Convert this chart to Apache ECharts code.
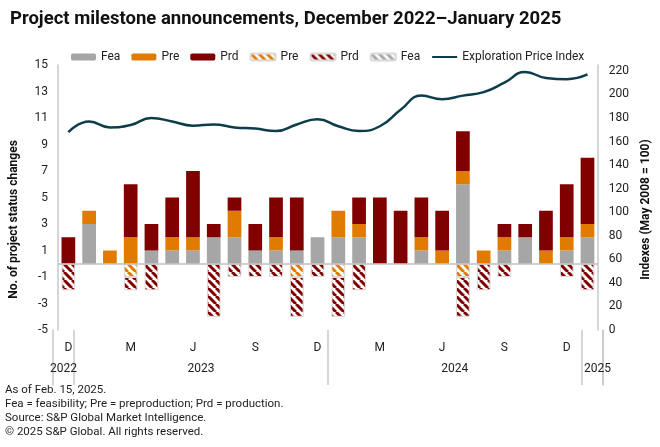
<!DOCTYPE html>
<html>
<head>
<meta charset="utf-8">
<script src="https://cdn.jsdelivr.net/npm/echarts@6/dist/echarts.min.js"></script>
<style>
html,body{margin:0;padding:0;background:#fff;}
#chart{width:660px;height:447px;}
</style>
</head>
<body>
<div id="chart"></div>
<script>
// ---- data ----
var categories = ['Dec 2022','Jan 2023','Feb 2023','Mar 2023','Apr 2023','May 2023','Jun 2023','Jul 2023','Aug 2023','Sep 2023','Oct 2023','Nov 2023','Dec 2023',
  'Jan 2024','Feb 2024','Mar 2024','Apr 2024','May 2024','Jun 2024','Jul 2024','Aug 2024','Sep 2024','Oct 2024','Nov 2024','Dec 2024','Jan 2025'];
var feaPos = [0,3,0,0,1,1,1,2,2,1,1,1,2, 2,2,0,0,1,0,6,0,1,2,0,1,2];
var prePos = [0,1,1,2,0,1,1,0,2,0,1,0,0, 2,1,0,0,1,1,1,1,1,0,1,1,1];
var prdPos = [2,0,0,4,2,3,5,1,1,2,3,4,0, 0,2,5,4,3,3,3,0,1,1,3,4,5];
var preNeg = [0,0,0,-1,0,0,0,0,0,0,0,-1,0, -1,0,0,0,0,0,-1,0,0,0,0,0,0];
var prdNeg = [-2,0,0,-1,-2,0,0,-4,-1,-1,-1,-3,-1, -3,-2,0,0,0,0,-3,-2,-1,0,0,-1,-2];
var feaNeg = [0,0,0,0,0,0,0,0,0,0,0,0,0, 0,0,0,0,0,0,0,0,0,0,0,0,0];
var priceIndex = [168,177,172,174,180,177,173.5,174.5,172,171,169,174.5,179, 173,169,173,187,199,196,199,202,210,219,214,213,217];
var monthLabels = ['D','','','M','','','J','','','S','','','D','','','M','','','J','','','S','','','D',''];
var yearLabels = ['2022','','','','','','2023','','','','','','','','','','','','2024','','','','','','','2025'];
var leftTicks = {min:-5, max:15, interval:2};
var rightTicks = {min:0, max:225, interval:20};

var FONT = 'Roboto';
var C_FEA = '#a6a6a6', C_PRE = '#e07b00', C_PRD = '#800000', C_LINE = '#0d3c4a', C_AXIS = '#c8c8c8';

function nz(arr){ return arr.map(function(v){ return v === 0 ? null : v; }); }
function hatch(color){
  var s = 8, c = document.createElement('canvas');
  c.width = s; c.height = s;
  var g = c.getContext('2d');
  g.fillStyle = '#ffffff'; g.fillRect(0,0,s,s);
  g.strokeStyle = color; g.lineWidth = 3;
  g.beginPath();
  for (var k=-1;k<=1;k++){ g.moveTo(k*s,0); g.lineTo(k*s+s,s); }
  g.stroke();
  return {image: c, repeat: 'repeat'};
}

var chart = echarts.init(document.getElementById('chart'), null, {renderer:'canvas'});
var barW = '66%';
function solid(name, data, color, extra){
  var s = {name:name, type:'bar', stack:'total', barWidth:barW, data:nz(data), itemStyle:{color:color}, xAxisIndex:0, yAxisIndex:0};
  if (extra) for (var k in extra) s[k] = extra[k];
  return s;
}
function hatched(name, data, color){
  return {name:name, type:'bar', stack:'total', barWidth:barW, data:nz(data), xAxisIndex:0, yAxisIndex:0,
    itemStyle:{color:hatch(color), borderColor:'#d9d9d9', borderWidth:1}};
}

var option = {
  animation:false,
  title:{text:'Project milestone announcements, December 2022\u2013January 2025', left:5, top:5,
    textStyle:{fontFamily:FONT, fontSize:18.5, fontWeight:'bold', color:'#111'}},
  legend:{left:66, top:46, itemWidth:25, itemHeight:7, itemGap:11,
    textStyle:{fontFamily:FONT, fontSize:12, color:'#222'},
    formatter:function(n){ return n.replace(' (h)',''); },
    data:['Fea','Pre','Prd','Pre (h)','Prd (h)','Fea (h)',{name:'Exploration Price Index', itemStyle:{opacity:0}}]},
  grid:[
    {left:53, right:57, top:65, height:265, containLabel:false},
    {left:53, right:57, top:330, height:55, containLabel:false}
  ],
  xAxis:[
    {type:'category', gridIndex:0, data:categories, boundaryGap:true, position:'bottom',
      axisLine:{show:false, onZero:false}, axisTick:{show:false}, splitLine:{show:false},
      axisLabel:{interval:0, margin:12, fontFamily:FONT, fontSize:12, color:'#222',
        formatter:function(v,i){ return monthLabels[i]; }}},
    {type:'category', gridIndex:1, data:categories, boundaryGap:true, position:'bottom',
      axisLine:{show:false}, axisTick:{show:false},
      splitLine:{show:true, interval:function(i){ return i===1 || i===13 || i===25; }, lineStyle:{color:C_AXIS, width:1.5}},
      axisLabel:{interval:0, inside:true, margin:10, fontFamily:FONT, fontSize:12, color:'#222',
        formatter:function(v,i){
          var t = yearLabels[i]; if (!t) return '';
          if (i===6 || i===18) return '{s|' + t + '}';
          if (i===25) return '{e|' + t + '}';
          return t; },
        rich:{s:{padding:[0,0,0,21], fontFamily:FONT, fontSize:12, color:'#222'},
              e:{padding:[0,0,0,10], fontFamily:FONT, fontSize:12, color:'#222'}}}}
  ],
  yAxis:[
    {type:'value', gridIndex:0, position:'left', min:leftTicks.min, max:leftTicks.max, interval:leftTicks.interval,
      name:'No. of project status changes', nameLocation:'middle', nameGap:38, nameRotate:90,
      nameTextStyle:{fontFamily:FONT, fontSize:12, fontWeight:'bold', color:'#111', padding:[0,44,0,0]},
      axisLine:{show:true, lineStyle:{color:C_AXIS, width:1.5}}, axisTick:{show:false}, splitLine:{show:false},
      axisLabel:{margin:10, fontFamily:FONT, fontSize:12, color:'#222'}},
    {type:'value', gridIndex:0, position:'right', min:rightTicks.min, max:rightTicks.max, interval:rightTicks.interval,
      name:'Indexes (May 2008 = 100)', nameLocation:'middle', nameGap:36, nameRotate:90,
      nameTextStyle:{fontFamily:FONT, fontSize:12, fontWeight:'bold', color:'#111', padding:[0,24,0,0]},
      axisLine:{show:true, lineStyle:{color:C_AXIS, width:1.5}}, axisTick:{show:false}, splitLine:{show:false},
      axisLabel:{margin:11, fontFamily:FONT, fontSize:12, color:'#222',
        formatter:function(v){ return (v % 20 === 0) ? String(v) : ''; }}},
    {type:'value', gridIndex:1, position:'left', min:0, max:1,
      axisLine:{show:true, lineStyle:{color:C_AXIS, width:1.5}}, axisTick:{show:false}, splitLine:{show:false}, axisLabel:{show:false}},
    {type:'value', gridIndex:1, position:'right', min:0, max:1,
      axisLine:{show:true, lineStyle:{color:C_AXIS, width:1.5}}, axisTick:{show:false}, splitLine:{show:false}, axisLabel:{show:false}}
  ],
  series:[
    solid('Fea', feaPos, C_FEA, {markLine:{silent:true, symbol:['none','none'], label:{show:false},
      lineStyle:{color:'#bfbfbf', width:1.5, type:'solid'}, data:[{yAxis:0}]}}),
    solid('Pre', prePos, C_PRE),
    solid('Prd', prdPos, C_PRD),
    hatched('Pre (h)', preNeg, C_PRE),
    hatched('Prd (h)', prdNeg, C_PRD),
    hatched('Fea (h)', feaNeg, C_FEA),
    {name:'Exploration Price Index', type:'line', xAxisIndex:0, yAxisIndex:1, data:priceIndex,
      smooth:0.5, symbol:'none', z:5, lineStyle:{color:C_LINE, width:2.5}, itemStyle:{color:C_LINE}}
  ],
  graphic:[
    {type:'text', left:5, top:383, silent:true,
      style:{text:'As of Feb. 15, 2025.\nFea = feasibility; Pre = preproduction; Prd = production.\nSource: S&P Global Market Intelligence.\n\u00a9 2025 S&P Global. All rights reserved.',
        font:'11.5px ' + FONT, fill:'#222', lineHeight:14}}
  ]
};
chart.setOption(option);
</script>
</body>
</html>
